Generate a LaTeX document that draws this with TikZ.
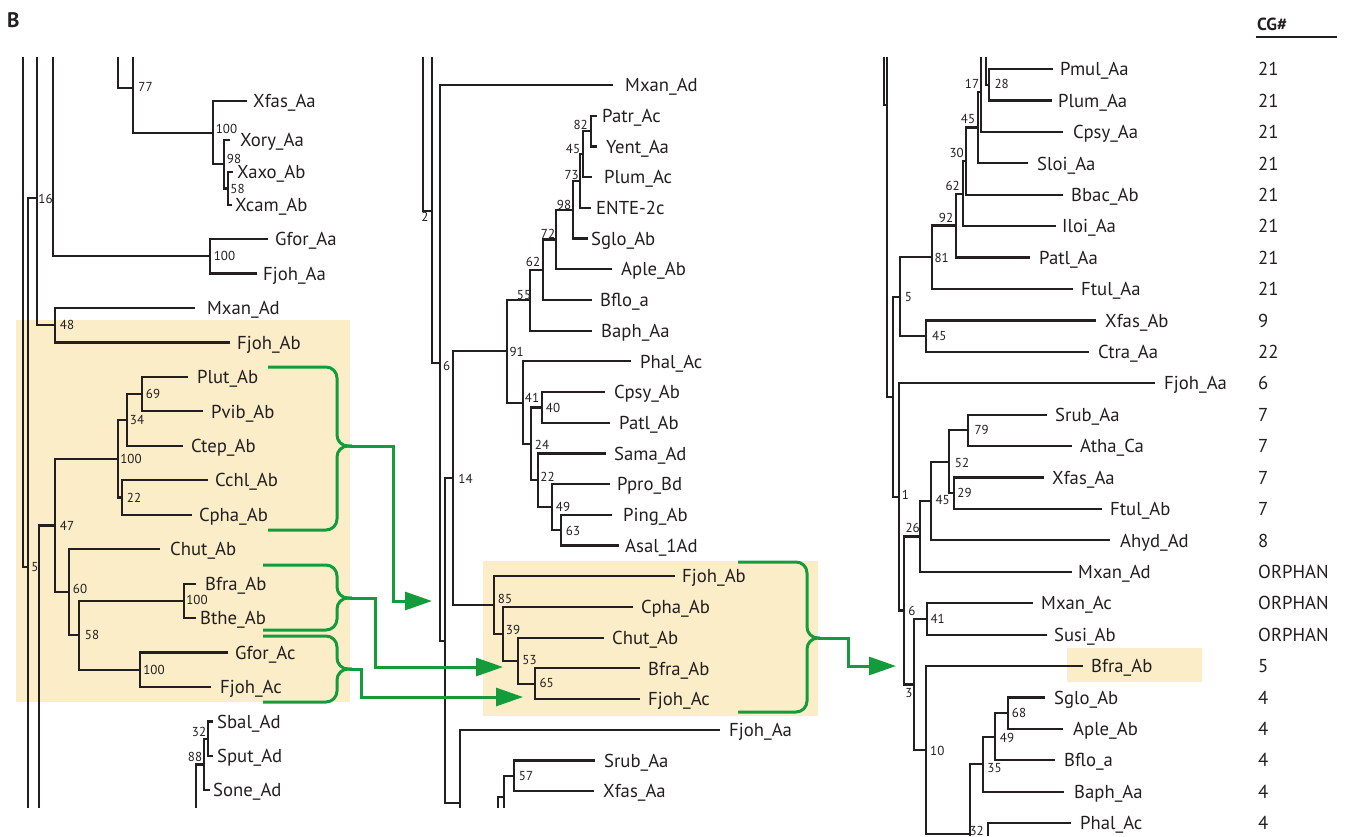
\documentclass[tikz,border=0pt]{standalone}
\usepackage{fontspec}
\setmainfont{PT Sans}
\usetikzlibrary{arrows.meta}
\definecolor{ink}{RGB}{35,31,32}
\definecolor{hl}{RGB}{250,237,200}
\definecolor{grn}{RGB}{20,155,60}
\newcommand\mybr[5]{\draw[tree] (#1,#2) -| (#3,#5) -- (#4,#5);}
\newcommand\mytx[4]{\node[taxon] (#1) at (#2,#3) {#4};}
\newcommand\mybs[4]{\node[boot] (#1) at (#2,#3) {#4};}
\newcommand\mybrace[6]{%
  \draw[gline,rounded corners=11pt] (#1,#2) -- (#4,#2) -- (#4,#5) -- (#6,#5);
  \draw[gline,rounded corners=11pt] (#1,#3) -- (#4,#3) -- (#4,#5) -- (#6,#5);}
\tikzset{
  tree/.style={draw=ink,line width=2.2pt},
  taxon/.style={anchor=base west,inner sep=0pt,text=ink,font=\fontsize{18.7}{20}\selectfont,yshift=-6.7pt},
  boot/.style={anchor=base,inner sep=0pt,text=ink,font=\fontsize{13}{14}\selectfont,yshift=-4.5pt},
  gline/.style={draw=grn,line width=3pt},
  garrow/.style={gline,-{Triangle[length=27pt,width=18pt]}}
}
\begin{document}
\begin{tikzpicture}[x=1pt,y=-1pt]
\useasboundingbox (0,0) rectangle (1348,836);
% highlights
\fill[hl] (16,320) rectangle (350,702);
\fill[hl] (483,561) rectangle (818,716);
\fill[hl] (1067,648) rectangle (1202,682);
\node[anchor=base west,inner sep=0pt,text=ink,font=\fontsize{21}{24}\bfseries\selectfont] (lblB) at (7,27) {B};
\node[anchor=base west,inner sep=0pt,text=ink,font=\fontsize{17.5}{20}\bfseries\selectfont] (cghead) at (1257,30) {CG\#};
\draw[ink,line width=2.5pt] (1256,37) coordinate (ul1) -- (1337,37) coordinate (ul2);
% ================= LEFT PANEL =================
\draw[tree] (23,57) |- (28,567);
\draw[tree] (28,808) |- (37,198);
\draw[tree] (37,57) |- (55,325.2);
\draw[tree] (53,57) |- (210,256.2);
\draw[tree] (39,808) |- (55,525.5);
\draw[tree] (118,57) |- (133,88);
\draw[tree] (133,57) |- (213,132.6);
\draw[tree] (196,808) |- (204,764.4);
\mybr{247}{101}{213}{224}{164.3}
\mybr{230}{140}{224}{228}{188.5}
\mybr{233}{172}{228}{232}{205}
\mybr{268}{239}{210}{257}{273.5}
\mybr{195}{307.9}{55}{230}{342.4}
\mybr{118}{458.7}{55}{69}{592.2}
\mybr{127}{419.9}{118}{122}{497.5}
\mybr{142}{394}{127}{183}{445.8}
\mybr{188}{376.8}{142}{203}{411.3}
\mybr{208}{480.2}{122}{192}{514.7}
\mybr{160}{549.1}{69}{79}{635.3}
\mybr{184}{600.9}{79}{140}{669.8}
\mybr{196}{583.6}{184}{196}{618.1}
\mybr{228}{652.5}{140}{211}{687}
\mybr{213}{721.5}{208}{213}{756}
\mybr{208}{738.8}{204}{210}{790}
\mytx{l1}{253}{101}{Xfas\_Aa}
\mytx{l2}{240}{140}{Xory\_Aa}
\mytx{l3}{237}{172}{Xaxo\_Ab}
\mytx{l4}{235}{205}{Xcam\_Ab}
\mytx{l5}{275}{239}{Gfor\_Aa}
\mytx{l6}{263}{273.5}{Fjoh\_Aa}
\mytx{l7}{207}{307.9}{Mxan\_Ad}
\mytx{l8}{237}{342.4}{Fjoh\_Ab}
\mytx{l9}{197}{376.8}{Plut\_Ab}
\mytx{l10}{211}{411.3}{Pvib\_Ab}
\mytx{l11}{191}{445.8}{Ctep\_Ab}
\mytx{l12}{215}{480.2}{Cchl\_Ab}
\mytx{l13}{199}{514.7}{Cpha\_Ab}
\mytx{l14}{170}{549.1}{Chut\_Ab}
\mytx{l15}{205}{583.6}{Bfra\_Ab}
\mytx{l16}{200}{618.1}{Bthe\_Ab}
\mytx{l17}{235}{652.5}{Gfor\_Ac}
\mytx{l18}{220}{687}{Fjoh\_Ac}
\mytx{l19}{217}{721.5}{Sbal\_Ad}
\mytx{l20}{217}{756}{Sput\_Ad}
\mytx{l21}{213}{790}{Sone\_Ad}
\mybs{lb1}{145.5}{86.5}{77}
\mybs{lb2}{226.5}{129}{100}
\mybs{lb3}{234}{158.5}{98}
\mybs{lb4}{237.5}{189}{58}
\mybs{lb5}{224.5}{255.5}{100}
\mybs{lb6}{45.5}{198.5}{16}
\mybs{lb7}{67}{325}{48}
\mybs{lb8}{153}{394}{69}
\mybs{lb9}{137}{420}{34}
\mybs{lb10}{131}{459}{100}
\mybs{lb11}{134}{498}{22}
\mybs{lb12}{67}{526}{47}
\mybs{lb13}{35}{567}{5}
\mybs{lb14}{80}{589}{60}
\mybs{lb15}{92}{635}{58}
\mybs{lb16}{197}{600}{100}
\mybs{lb17}{154}{670}{100}
\mybs{lb18}{199}{732}{32}
\mybs{lb19}{195}{757}{88}
% ================= MIDDLE PANEL =================
\draw[tree] (423,57) |- (432,211);
\draw[tree] (432,57) |- (440,362.8);
\mybr{613}{85}{440}{445}{640.6}
\mybr{453}{478.2}{445}{460}{803}
\mybr{507}{351.3}{453}{494}{605}
\mybr{530}{300.1}{507}{523}{402.6}
\mybr{543}{269.7}{530}{592}{330.6}
\mybr{556}{239.5}{543}{592}{299.9}
\mybr{573}{209.7}{556}{612}{269.2}
\mybr{580}{180.9}{573}{588}{238.5}
\mybr{583}{154.1}{580}{591}{207.8}
\mybr{591}{131.05}{583}{592}{177.1}
\mybr{597}{115.7}{591}{597}{146.4}
\mybr{631}{361.3}{523}{531}{443.8}
\mybr{542}{407.4}{531}{538}{480.3}
\mybr{605}{392}{542}{610}{422.7}
\mybr{606}{453.4}{538}{552}{507.1}
\mybr{610}{484.1}{552}{561}{530.2}
\mybr{612}{514.8}{561}{619}{545.5}
\mybr{675}{576.2}{494}{503}{633.8}
\mybr{633}{606.9}{503}{518}{660.6}
\mybr{604}{637.6}{518}{535}{683.7}
\mybr{640}{668.3}{535}{640}{699}
\draw[tree] (720,729.7) -| (460,808);
\mybr{595}{760.4}{514}{594}{791.1}
\draw[tree] (504,808) |- (514,775.75);
\draw[tree] (498,808) |- (504,797);
\mytx{m1}{625}{85}{Mxan\_Ad}
\mytx{m2}{602}{115.7}{Patr\_Ac}
\mytx{m3}{606}{146.4}{Yent\_Aa}
\mytx{m4}{604}{177.1}{Plum\_Ac}
\mytx{m5}{596}{207.8}{ENTE-2c}
\mytx{m6}{591}{238.5}{Sglo\_Ab}
\mytx{m7}{621}{269.2}{Aple\_Ab}
\mytx{m8}{600}{299.9}{Bflo\_a}
\mytx{m9}{601}{330.6}{Baph\_Aa}
\mytx{m10}{640}{361.3}{Phal\_Ac}
\mytx{m11}{614}{392}{Cpsy\_Ab}
\mytx{m12}{619}{422.7}{Patl\_Ab}
\mytx{m13}{614}{453.4}{Sama\_Ad}
\mytx{m14}{617}{484.1}{Ppro\_Bd}
\mytx{m15}{623}{514.8}{Ping\_Ab}
\mytx{m16}{625}{545.5}{Asal\_1Ad}
\mytx{m17}{682}{576.2}{Fjoh\_Ab}
\mytx{m18}{641}{606.9}{Cpha\_Ab}
\mytx{m19}{612}{637.6}{Chut\_Ab}
\mytx{m20}{648}{668.3}{Bfra\_Ab}
\mytx{m21}{648}{699}{Fjoh\_Ac}
\mytx{m22}{729}{729.7}{Fjoh\_Aa}
\mytx{m23}{604}{760.4}{Srub\_Aa}
\mytx{m24}{603}{791.1}{Xfas\_Aa}
\mybs{mb1}{425}{217}{2}
\mybs{mb2}{446.7}{365.5}{6}
\mybs{mb3}{465.5}{479}{14}
\mybs{mb4}{516.7}{352}{91}
\mybs{mb5}{524}{295}{55}
\mybs{mb6}{533}{262}{62}
\mybs{mb7}{548}{234}{72}
\mybs{mb8}{564}{205}{98}
\mybs{mb9}{571.7}{175}{73}
\mybs{mb10}{573}{149}{45}
\mybs{mb11}{580.7}{125}{82}
\mybs{mb12}{532}{398}{41}
\mybs{mb13}{553}{408}{40}
\mybs{mb14}{542}{445}{24}
\mybs{mb15}{547.5}{477}{22}
\mybs{mb16}{563}{507}{49}
\mybs{mb17}{573}{531}{63}
\mybs{mb18}{505}{599}{85}
\mybs{mb19}{513}{630}{39}
\mybs{mb20}{529.5}{659.5}{53}
\mybs{mb21}{546.7}{682.5}{65}
\mybs{mb22}{526}{776}{57}
% ================= RIGHT PANEL =================
\draw[tree] (884,57) |- (887,105);
\draw[tree] (887,57) |- (893,396.9);
\mybr{900}{297}{893}{899}{496.8}
\mybr{932}{257}{900}{926}{336.1}
\mybr{956}{225.5}{932}{1073}{288.9}
\mybr{963}{194}{956}{1030}{257.5}
\mybr{966}{161}{963}{1056}{226.1}
\mybr{978}{127.5}{966}{1063}{194.7}
\mybr{981}{92}{978}{1028}{163.3}
\draw[tree] (981,57) |- (1063,131.8);
\draw[tree] (986,57) |- (989,84.7);
\mybr{1053}{69}{989}{1052}{100.4}
\mybr{1096}{320.4}{926}{1089}{351.8}
\mybr{1155}{383.2}{899}{904}{610.4}
\mybr{920}{536.4}{904}{914}{684.4}
\mybr{931}{501}{920}{1072}{571.7}
\mybr{949}{461.8}{931}{1110}{540.3}
\mybr{968}{430.3}{949}{954}{493.2}
\mybr{1047}{414.6}{968}{1072}{446}
\mybr{1044}{477.5}{954}{1102}{508.9}
\mybr{927}{618.9}{914}{926}{750}
\mybr{1033}{603.1}{927}{1047}{634.6}
\draw[tree] (1083,666) -| (926,834) -- (970,834);
\draw[tree] (970,836) |- (983,764.2);
\mybr{995}{736.6}{983}{1064}{791.7}
\mybr{1008}{713.1}{995}{1055}{760.2}
\mybr{1045}{697.4}{1008}{1063}{728.8}
\draw[tree] (1071,823.1) -| (988,836);
\mytx{r1}{1060}{69}{Pmul\_Aa}
\mytx{r2}{1058}{100.4}{Plum\_Aa}
\mytx{r3}{1073}{131.8}{Cpsy\_Aa}
\mytx{r4}{1037}{163.3}{Sloi\_Aa}
\mytx{r5}{1071}{194.7}{Bbac\_Ab}
\mytx{r6}{1062}{226.1}{Iloi\_Aa}
\mytx{r7}{1039}{257.5}{Patl\_Aa}
\mytx{r8}{1081}{288.9}{Ftul\_Aa}
\mytx{r9}{1105}{320.4}{Xfas\_Ab}
\mytx{r10}{1098}{351.8}{Ctra\_Aa}
\mytx{r11}{1164}{383.2}{Fjoh\_Aa}
\mytx{r12}{1055}{414.6}{Srub\_Aa}
\mytx{r13}{1080}{446}{Atha\_Ca}
\mytx{r14}{1052}{477.5}{Xfas\_Aa}
\mytx{r15}{1110}{508.9}{Ftul\_Ab}
\mytx{r16}{1120}{540.3}{Ahyd\_Ad}
\mytx{r17}{1078}{571.7}{Mxan\_Ad}
\mytx{r18}{1041}{603.1}{Mxan\_Ac}
\mytx{r19}{1054}{634.6}{Susi\_Ab}
\mytx{r20}{1091}{666}{Bfra\_Ab}
\mytx{r21}{1054}{697.4}{Sglo\_Ab}
\mytx{r22}{1073}{728.8}{Aple\_Ab}
\mytx{r23}{1064}{760.2}{Bflo\_a}
\mytx{r24}{1074}{791.7}{Baph\_Aa}
\mytx{r25}{1080}{823.1}{Phal\_Ac}
\mybs{rb1}{972}{84}{17}
\mybs{rb2}{1001.7}{84}{28}
\mybs{rb3}{968}{119}{45}
\mybs{rb4}{956.7}{153.3}{30}
\mybs{rb5}{952.7}{185.5}{62}
\mybs{rb6}{946}{217.5}{92}
\mybs{rb7}{941.7}{257.5}{81}
\mybs{rb8}{908.3}{296.7}{5}
\mybs{rb9}{939.3}{336}{45}
\mybs{rb10}{981.7}{429.5}{79}
\mybs{rb11}{962}{462.8}{52}
\mybs{rb12}{964.5}{492.8}{29}
\mybs{rb13}{942.7}{500}{45}
\mybs{rb14}{905.3}{495}{1}
\mybs{rb15}{912.7}{528.3}{26}
\mybs{rb16}{911.8}{610.5}{6}
\mybs{rb17}{937.7}{618.5}{41}
\mybs{rb18}{909}{692.5}{3}
\mybs{rb19}{937.3}{750.5}{10}
\mybs{rb20}{1019}{712.8}{68}
\mybs{rb21}{1007}{737.5}{49}
\mybs{rb22}{994.5}{768.3}{35}
\mybs{rb23}{976.7}{830.5}{32}
% CG column
\mytx{c1}{1258}{69}{21}
\mytx{c2}{1258}{100.4}{21}
\mytx{c3}{1258}{131.8}{21}
\mytx{c4}{1258}{163.3}{21}
\mytx{c5}{1258}{194.7}{21}
\mytx{c6}{1258}{226.1}{21}
\mytx{c7}{1258}{257.5}{21}
\mytx{c8}{1258}{288.9}{21}
\mytx{c9}{1258}{320.4}{9}
\mytx{c10}{1258}{351.8}{22}
\mytx{c11}{1258}{383.2}{6}
\mytx{c12}{1258}{414.6}{7}
\mytx{c13}{1258}{446}{7}
\mytx{c14}{1258}{477.5}{7}
\mytx{c15}{1258}{508.9}{7}
\mytx{c16}{1258}{540.3}{8}
\mytx{c17}{1258}{571.7}{ORPHAN}
\mytx{c18}{1258}{603.1}{ORPHAN}
\mytx{c19}{1258}{634.6}{ORPHAN}
\mytx{c20}{1258}{666}{5}
\mytx{c21}{1258}{697.4}{4}
\mytx{c22}{1258}{728.8}{4}
\mytx{c23}{1258}{760.2}{4}
\mytx{c24}{1258}{791.7}{4}
\mytx{c25}{1258}{823.1}{4}
% ================= GREEN BRACES AND ARROWS =================
\mybrace{268}{367}{530}{337}{446}{352}
\mybrace{263}{565}{630}{337}{598}{352}
\mybrace{263}{636}{702}{337}{669}{352}
\mybrace{738}{562}{712}{807}{638}{820}
\coordinate (t1) at (350,446);
\coordinate (t2) at (350,598);
\coordinate (t3) at (350,669);
\coordinate (t4) at (818,638);
\coordinate (h1) at (432,601);
\coordinate (h2) at (503,667);
\coordinate (h3) at (523,697);
\coordinate (h4) at (896,666);
\draw[garrow] (t1) -- (393,446) -- (393,601) -- (h1);
\draw[garrow] (t2) -- (375,598) -- (375,667) -- (h2);
\draw[garrow] (t3) -- (361,669) -- (361,697) -- (h3);
\draw[garrow] (t4) -- (848,638) -- (848,666) -- (h4);
\end{tikzpicture}
\end{document}
